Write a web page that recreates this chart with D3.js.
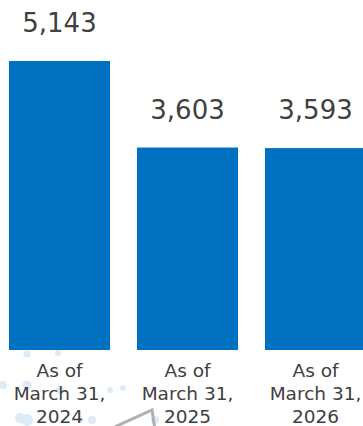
<!DOCTYPE html>
<html>
<head>
<meta charset="utf-8">
<script src="https://cdn.jsdelivr.net/npm/d3@7"></script>
<style>
  body { margin: 0; background: #fff; overflow: hidden; }
  svg { display: block; }
</style>
</head>
<body>
<svg width="363" height="426"></svg>
<script>
/* Data */

var categories = ["2024", "2025", "2026"];
var values = [5143, 3603, 3593];
var tickLines = ["As of", "March 31,"];

/* Setup */

var svg = d3.select("svg");
var w = +svg.attr("width"),
    h = +svg.attr("height"),
    base = 350,
    blue = "#0070c0",
    textColor = "#404040";

var x = d3.scaleBand()
    .domain(categories)
    .range([9, 366])
    .paddingInner(0.211)
    .paddingOuter(0);

var y = d3.scaleLinear()
    .domain([0, d3.max(values)])
    .range([base, 61]);

// faint background decoration (dots + grey stroke)
var deco = svg.append("g").attr("class", "deco");
var dots = [
  [27, 354, 3.5], [58, 353, 3], [3, 385, 4], [27, 385, 4.5], [60, 390, 4],
  [123, 388, 3], [20, 418, 5], [27, 420, 6], [92, 420, 4], [155, 420, 4],
  [110, 390, 3], [80, 420, 3]
];
deco.selectAll("circle")
  .data(dots)
  .enter().append("circle")
  .attr("cx", (d) => d[0])
  .attr("cy", (d) => d[1])
  .attr("r", (d) => d[2])
  .attr("fill", "#dcebf7");

deco.append("path")
  .attr("d", "M108,430 L152,410 L155,430")
  .attr("fill", "none")
  .attr("stroke", "#b0b0b0")
  .attr("stroke-width", 3);

/* Bars */

svg.selectAll(".bar")
  .data(values)
  .enter().append("rect")
  .classed("bar", true)
  .attr("x", (d, i) => x(categories[i]))
  .attr("y", (d) => y(d))
  .attr("width", x.bandwidth())
  .attr("height", (d) => base - y(d))
  .attr("fill", blue);

/* Value labels */

svg.selectAll(".value")
  .data(values)
  .enter().append("text")
  .classed("value", true)
  .attr("x", (d, i) => x(categories[i]) + x.bandwidth() / 2)
  .attr("y", (d) => y(d) - 29)
  .attr("text-anchor", "middle")
  .attr("font-family", "Verdana, 'DejaVu Sans', sans-serif")
  .attr("font-size", 26)
  .attr("fill", textColor)
  .text((d) => d3.format(",")(d));

/* Category labels */

var xAxis = d3.axisBottom(x).tickSize(0).tickPadding(0).tickFormat("");
var axisG = svg.append("g")
  .attr("transform", "translate(0," + base + ")")
  .call(xAxis);
axisG.select(".domain").remove();

axisG.selectAll(".tick").each(function(d) {
  var t = d3.select(this).append("text")
    .attr("text-anchor", "middle")
    .attr("font-family", "Verdana, 'DejaVu Sans', sans-serif")
    .attr("font-size", 18.5)
    .attr("fill", textColor);
  tickLines.concat([d]).forEach((line, i) => {
    t.append("tspan")
      .attr("x", 0)
      .attr("y", 27 + i * 23)
      .text(line);
  });
});
</script>
</body>
</html>
